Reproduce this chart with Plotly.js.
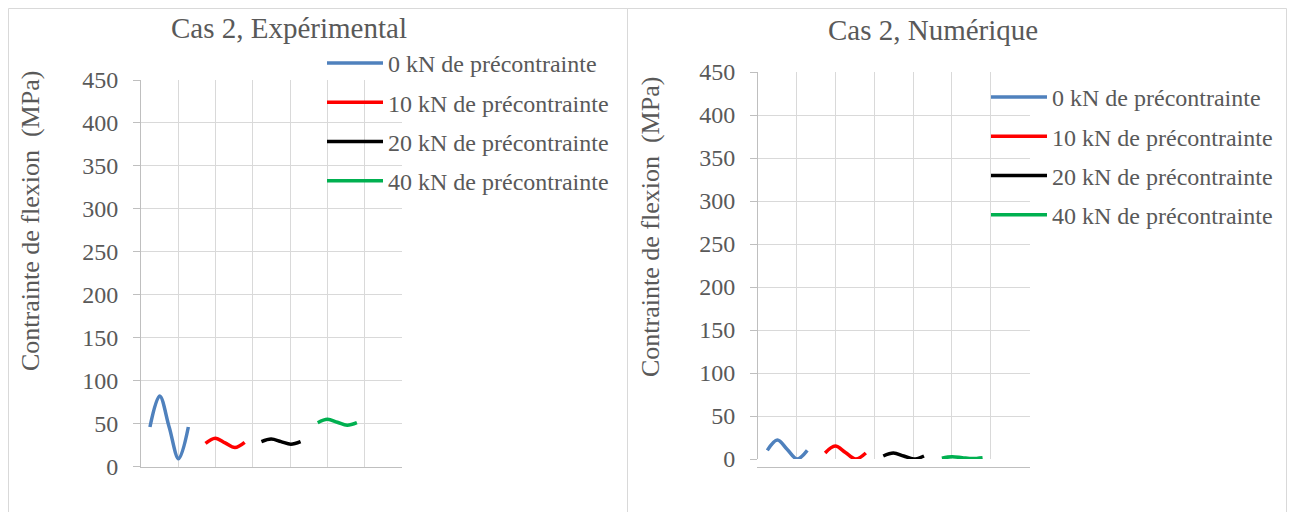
<!DOCTYPE html>
<html><head><meta charset="utf-8">
<script src="https://cdn.plot.ly/plotly-3.0.1.min.js"></script>
<style>html,body{margin:0;padding:0;background:#fff}</style>
</head><body><div id="chart" style="width:1292px;height:512px"></div>
<script>
// ---- data ----
const seriesNames = ['0 kN de précontrainte', '10 kN de précontrainte', '20 kN de précontrainte', '40 kN de précontrainte'];
const seriesColors = ['#4F81BD', '#FF0000', '#000000', '#00B050'];

const x0kN  = [0.24, 0.50, 0.755, 1.01, 1.27];
const x10kN = [1.73, 1.99, 2.255, 2.52, 2.78];
const x20kN = [3.23, 3.49, 3.755, 4.02, 4.28];
const x40kN = [4.74, 5.00, 5.265, 5.53, 5.79];

// Cas 2, Expérimental
const exp0kN  = [46, 82, 46, 9, 46];
const exp10kN = [27, 33, 27.5, 22, 28];
const exp20kN = [29, 32, 29, 26, 29];
const exp40kN = [51, 55, 51.5, 48, 51];

// Cas 2, Numérique
const num0kN  = [10, 22, 11, 0, 10];
const num10kN = [7, 15, 7.5, 0, 7];
const num20kN = [3.5, 7, 3.5, 0, 3.5];
const num40kN = [1, 2.5, 1.5, 0.5, 1.5];

const yTicks = [0, 50, 100, 150, 200, 250, 300, 350, 400, 450];
const titles = ['Cas 2, Expérimental', 'Cas 2, Numérique'];
const yTitle = 'Contrainte de flexion  (MPa)';

// ---- build ----
const W = 1292, H = 512;
const FONT = 'Liberation Serif';
const TXT = '#595959';
const xs = [x0kN, x10kN, x20kN, x40kN];
const expY = [exp0kN, exp10kN, exp20kN, exp40kN];
const numY = [num0kN, num10kN, num20kN, num40kN];

const traces = [];
expY.forEach((y, i) => traces.push({
  type: 'scatter', mode: 'lines', x: xs[i], y: y, name: seriesNames[i],
  line: {color: seriesColors[i], width: 3.5, shape: 'spline', smoothing: 1},
  xaxis: 'x', yaxis: 'y', legend: 'legend', legendgroup: 'L' + i, cliponaxis: false
}));
numY.forEach((y, i) => traces.push({
  type: 'scatter', mode: 'lines', x: xs[i], y: y, name: seriesNames[i],
  line: {color: seriesColors[i], width: 3.5, shape: 'spline', smoothing: 1},
  xaxis: 'x2', yaxis: 'y2', legend: 'legend2', legendgroup: 'R' + i, cliponaxis: false
}));

function xAx(d) {
  return {domain: d, range: [0, 7], dtick: 1, tick0: 0, showticklabels: false, ticks: '',
    showgrid: true, gridcolor: '#d9d9d9', gridwidth: 1, zeroline: false,
    showline: true, linecolor: '#bfbfbf', linewidth: 1, fixedrange: true};
}
function yAx(d, anchor) {
  return {domain: d, range: [0, 450], tickvals: yTicks, ticktext: yTicks.map(String),
    anchor: anchor, ticks: 'outside', ticklen: 7, tickcolor: '#bfbfbf', tickwidth: 1,
    ticklabelstandoff: 10,
    showgrid: true, gridcolor: '#d9d9d9', gridwidth: 1, zeroline: false,
    showline: true, linecolor: '#bfbfbf', linewidth: 1,
    tickfont: {family: FONT, size: 24, color: TXT}, fixedrange: true};
}
function legendAt(xp, yp) {
  return {x: xp / W, y: 1 - yp / H, xanchor: 'left', yanchor: 'top',
    bgcolor: 'rgba(0,0,0,0)', borderwidth: 0, traceorder: 'grouped', tracegroupgap: 5,
    itemwidth: 56, font: {family: FONT, size: 24, color: TXT}};
}

const layout = {
  width: W, height: H, margin: {l: 0, r: 0, t: 0, b: 0},
  paper_bgcolor: '#ffffff', plot_bgcolor: '#ffffff',
  font: {family: FONT, color: TXT},
  xaxis: xAx([141 / W, 402 / W]),
  yaxis: yAx([1 - 466.5 / H, 1 - 80 / H], 'x'),
  xaxis2: xAx([758 / W, 1029.5 / W]),
  yaxis2: yAx([1 - 459 / H, 1 - 72 / H], 'x2'),
  legend: legendAt(322, 41),
  legend2: legendAt(986, 75),
  shapes: [
    {type: 'rect', xref: 'paper', yref: 'paper', x0: 8.5 / W, x1: 627.5 / W, y0: -0.2, y1: 1 - 8.5 / H,
      line: {color: '#d9d9d9', width: 1}, layer: 'below'},
    {type: 'rect', xref: 'paper', yref: 'paper', x0: 627.5 / W, x1: 1286.5 / W, y0: -0.2, y1: 1 - 8.5 / H,
      line: {color: '#d9d9d9', width: 1}, layer: 'below'}
  ],
  annotations: [
    {text: titles[0], xref: 'paper', yref: 'paper', x: 289 / W, y: 1 - 28 / H, xanchor: 'center', yanchor: 'middle',
      showarrow: false, font: {family: FONT, size: 29, color: TXT}},
    {text: titles[1], xref: 'paper', yref: 'paper', x: 933 / W, y: 1 - 30 / H, xanchor: 'center', yanchor: 'middle',
      showarrow: false, font: {family: FONT, size: 29, color: TXT}},
    {text: yTitle, xref: 'paper', yref: 'paper', x: 30 / W, y: 1 - 221 / H, xanchor: 'center', yanchor: 'middle',
      textangle: -90, showarrow: false, font: {family: FONT, size: 26, color: TXT}},
    {text: yTitle, xref: 'paper', yref: 'paper', x: 650 / W, y: 1 - 227 / H, xanchor: 'center', yanchor: 'middle',
      textangle: -90, showarrow: false, font: {family: FONT, size: 26, color: TXT}}
  ]
};

Plotly.newPlot('chart', traces, layout, {displayModeBar: false, staticPlot: true});
</script></body></html>
